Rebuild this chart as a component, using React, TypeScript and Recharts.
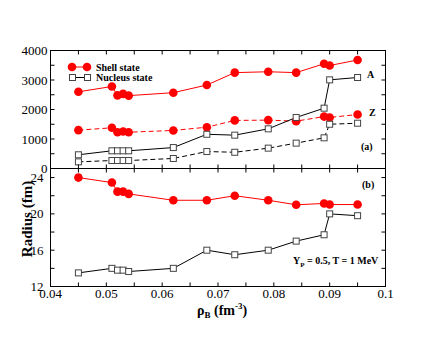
import React from 'react';
import { LineChart, Line, XAxis, YAxis } from 'recharts';

const rho = [0.045, 0.051, 0.052, 0.053, 0.054, 0.062, 0.068, 0.073, 0.079, 0.084, 0.089, 0.09, 0.095];
const shellA = [2600, 2780, 2480, 2530, 2470, 2570, 2830, 3250, 3280, 3250, 3550, 3490, 3680];
const nucleusA = [465, 600, 600, 600, 600, 710, 1160, 1130, 1345, 1730, 2045, 3005, 3085];
const shellZ = [1300, 1380, 1230, 1255, 1230, 1290, 1400, 1630, 1640, 1605, 1760, 1730, 1830];
const nucleusZ = [225, 270, 270, 270, 270, 340, 575, 550, 690, 860, 1040, 1500, 1535];
const shellR = [24.0, 23.45, 22.45, 22.45, 22.2, 21.5, 21.5, 22.0, 21.5, 21.0, 21.15, 21.03, 21.03];
const nucleusR = [13.5, 14.0, 13.8, 13.8, 13.65, 14.0, 16.0, 15.5, 16.0, 17.0, 17.7, 20.0, 19.8];

const xTicks = [0.04, 0.045, 0.05, 0.055, 0.06, 0.065, 0.07, 0.075, 0.08, 0.085, 0.09, 0.095, 0.1];
const xLabels = ['0.04', '0.05', '0.06', '0.07', '0.08', '0.09', '0.1'];
const topTicks = [0, 500, 1000, 1500, 2000, 2500, 3000, 3500, 4000];
const topLabels = [0, 1000, 2000, 3000, 4000];
const bottomTicks = [12, 14, 16, 18, 20, 22, 24];
const bottomLabels = [12, 16, 20, 24];

const dataTop = rho.map((r, i) => ({ rho: r, shellA: shellA[i], nucleusA: nucleusA[i], shellZ: shellZ[i], nucleusZ: nucleusZ[i] }));
const dataBottom = rho.map((r, i) => ({ rho: r, shell: shellR[i], nucleus: nucleusR[i] }));

const FONT = 'Liberation Serif, Times New Roman, serif';
const X_DOMAIN = [0.04, 0.1];
const PLOT_W = 335;
const PLOT_H = 118;
const TICK = 4;
const X_MARGIN = 2;

const fmtX = (v: number) => {
  const s = String(Math.round(v * 1000) / 1000);
  return xLabels.includes(s) ? s : '';
};

// bottom tick: inward mark at the bottom and its mirror on the top edge, plus label
const XTick = (props: any) => {
  const { x, y, payload, showLabel } = props;
  const ay = y - X_MARGIN;
  const label = fmtX(payload.value);
  return (
    <g>
      <line x1={x} x2={x} y1={ay} y2={ay - TICK} stroke="#000" />
      <line x1={x} x2={x} y1={ay - PLOT_H} y2={ay - PLOT_H + TICK} stroke="#000" />
      {showLabel && label && (
        <text x={x} y={y} dy="0.71em" textAnchor="middle" fontSize={13} fontFamily={FONT} fill="#000">{label}</text>
      )}
    </g>
  );
};

// left tick: inward mark on the left and its mirror on the right edge, plus label
const YTick = (props: any) => {
  const { x, y, payload, labels, margin } = props;
  const ax = x + margin;
  const v = payload.value;
  return (
    <g>
      <line x1={ax} x2={ax + TICK} y1={y} y2={y} stroke="#000" />
      <line x1={ax + PLOT_W} x2={ax + PLOT_W - TICK} y1={y} y2={y} stroke="#000" />
      {labels.includes(v) && (
        <text x={x} y={y} dy="0.355em" textAnchor="end" fontSize={13} fontFamily={FONT} fill="#000">{v}</text>
      )}
    </g>
  );
};

const SquareDot = (props: any) => {
  const { cx, cy } = props;
  if (cx == null || cy == null) return null;
  return <rect x={cx - 3} y={cy - 3} width={6} height={6} fill="#fff" stroke="#444" strokeWidth={1} />;
};

const RED = '#ff0000';
const redDot = { r: 4.3, fill: RED, stroke: RED, strokeWidth: 0 };

const axes = (domain: number[], yTicks: number[], yLabels: number[], yMargin: number, xLabelsOn: boolean) => [
  <XAxis key="xb" xAxisId="b" dataKey="rho" type="number" domain={X_DOMAIN} ticks={xTicks}
    height={29.5} tickLine={false} tickSize={0} tickMargin={X_MARGIN} axisLine={false}
    tick={<XTick showLabel={xLabelsOn} />} interval={0} allowDataOverflow />,
  <YAxis key="yl" yAxisId="l" type="number" domain={domain} ticks={yTicks} width={50.5}
    tickLine={false} tickSize={0} tickMargin={yMargin} axisLine={false}
    tick={<YTick labels={yLabels} margin={yMargin} />} interval={0} allowDataOverflow />,
];

export default function App() {
  return (
    <div style={{ position: 'absolute', left: 0, top: 0, width: 436, height: 337, background: '#fff' }}>
      <div style={{ position: 'absolute', left: 0, top: 0 }}>
        <LineChart width={436} height={198} data={dataTop} margin={{ top: 50.5, right: 50.5, bottom: 0, left: 0 }}>
          {axes([0, 4000], topTicks, topLabels, 3, false)}
          <Line xAxisId="b" yAxisId="l" dataKey="shellA" stroke={RED} strokeWidth={1} dot={redDot} isAnimationActive={false} />
          <Line xAxisId="b" yAxisId="l" dataKey="shellZ" stroke={RED} strokeWidth={1} strokeDasharray="5 3" dot={redDot} isAnimationActive={false} />
          <Line xAxisId="b" yAxisId="l" dataKey="nucleusA" stroke="#000" strokeWidth={1} dot={<SquareDot />} isAnimationActive={false} />
          <Line xAxisId="b" yAxisId="l" dataKey="nucleusZ" stroke="#000" strokeWidth={1} strokeDasharray="5 3" dot={<SquareDot />} isAnimationActive={false} />
        </LineChart>
      </div>
      <div style={{ position: 'absolute', left: 0, top: 160 }}>
        <LineChart width={436} height={177} data={dataBottom} margin={{ top: 8.5, right: 50.5, bottom: 21, left: 0 }}>
          {axes([12, 25], bottomTicks, bottomLabels, 7, true)}
          <Line xAxisId="b" yAxisId="l" dataKey="shell" stroke={RED} strokeWidth={1} dot={redDot} isAnimationActive={false} />
          <Line xAxisId="b" yAxisId="l" dataKey="nucleus" stroke="#000" strokeWidth={1} dot={<SquareDot />} isAnimationActive={false} />
        </LineChart>
      </div>
      <svg width={436} height={337} style={{ position: 'absolute', left: 0, top: 0, pointerEvents: 'none' }}
        fontFamily={FONT} fontWeight="bold">
        {/* panel frames */}
        <rect x={50.5} y={50.5} width={PLOT_W} height={PLOT_H} fill="none" stroke="#000" />
        <rect x={50.5} y={168.5} width={PLOT_W} height={PLOT_H} fill="none" stroke="#000" />

        {/* legend */}
        <line x1={72} y1={67} x2={87} y2={67} stroke={RED} />
        <circle cx={72} cy={67} r={4.3} fill={RED} />
        <circle cx={87} cy={67} r={4.3} fill={RED} />
        <text x={96} y={71} fontSize={10}>Shell state</text>
        <line x1={72} y1={77.5} x2={87} y2={77.5} stroke="#000" />
        <rect x={69.5} y={74.5} width={6} height={6} fill="#fff" stroke="#444" />
        <rect x={84.5} y={74.5} width={6} height={6} fill="#fff" stroke="#444" />
        <text x={96} y={81} fontSize={10}>Nucleus state</text>

        <text x={367} y={78} fontSize={10}>A</text>
        <text x={369} y={116} fontSize={10}>Z</text>
        <text x={361} y={150} fontSize={10}>(a)</text>
        <text x={362} y={188} fontSize={10}>(b)</text>
        <text x={293} y={264} fontSize={10}>
          Y<tspan fontSize={7} dy={3}>P</tspan><tspan dy={-3}> = 0.5, T = 1 MeV</tspan>
        </text>

        <text x={0} y={0} fontSize={15} textAnchor="middle" transform="translate(32,219) rotate(-90)">Radius (fm)</text>
        <text x={197} y={315} fontSize={14}>
          ρ<tspan fontSize={9} dy={3}>B</tspan><tspan dy={-3}> (fm</tspan><tspan fontSize={9} dy={-6}>-3</tspan><tspan dy={6}>)</tspan>
        </text>
      </svg>
    </div>
  );
}
